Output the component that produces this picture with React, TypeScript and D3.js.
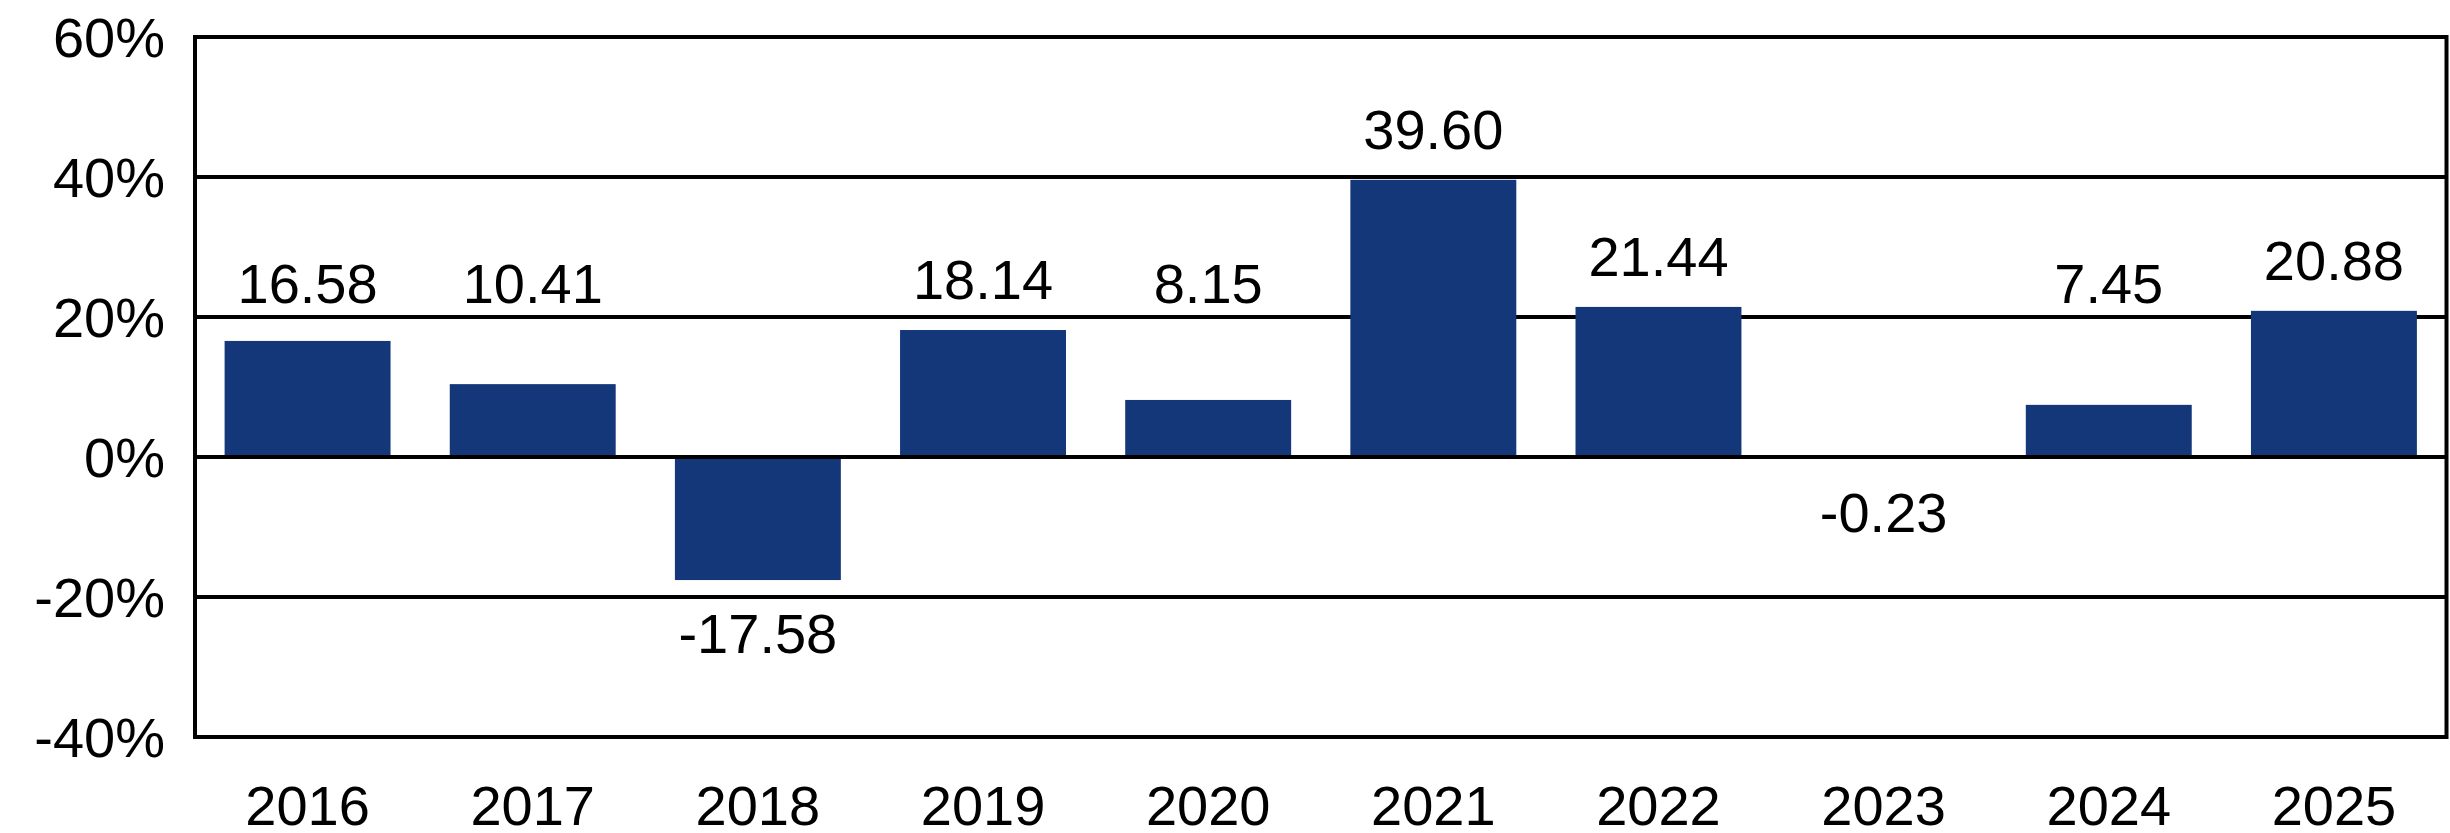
import React from "react";
import * as d3 from "d3";

const years = ["2016", "2017", "2018", "2019", "2020", "2021", "2022", "2023", "2024", "2025"];
const returns = [16.58, 10.41, -17.58, 18.14, 8.15, 39.6, 21.44, -0.23, 7.45, 20.88];
const yTicks = [60, 40, 20, 0, -20, -40];
const gridValues = [40, 20, -20];

const W = 2450;
const H = 833;
const left = 195;
const right = 2446.5;
const top = 37;
const bottom = 737;
const FONT = "'Liberation Sans', Arial, Helvetica, sans-serif";
const BAR = "#14377a";

export default function App() {
  const x = d3.scaleBand<string>().domain(years).range([left, right]).paddingInner(0.263).paddingOuter(0.1315);
  const y = d3.scaleLinear().domain([-40, 60]).range([bottom, top]);
  const bw = x.bandwidth();

  return (
    <svg width={W} height={H} style={{ position: "absolute", left: 0, top: 0, background: "#fff" }}>
      {gridValues.map((g) => (
        <line key={g} x1={left} x2={right} y1={y(g)} y2={y(g)} stroke="#000" strokeWidth={4} />
      ))}
      {years.map((yr, i) => {
        const v = returns[i];
        const y0 = y(0);
        const yv = y(v);
        return (
          <rect key={yr} x={x(yr)} y={Math.min(y0, yv)} width={bw} height={Math.abs(yv - y0)} fill={BAR} />
        );
      })}
      <line x1={left} x2={right} y1={y(0)} y2={y(0)} stroke="#000" strokeWidth={4} />
      <rect x={left} y={top} width={right - left} height={bottom - top} fill="none" stroke="#000" strokeWidth={4} />
      {yTicks.map((t) => (
        <text key={t} x={165} y={y(t)} dy="0.36em" textAnchor="end" fontFamily={FONT} fontSize={56} fill="#000">
          {`${t}%`}
        </text>
      ))}
      {years.map((yr) => (
        <text key={yr} x={(x(yr) as number) + bw / 2} y={825} textAnchor="middle" fontFamily={FONT} fontSize={56} fill="#000">
          {yr}
        </text>
      ))}
      {years.map((yr, i) => {
        const v = returns[i];
        const cx = (x(yr) as number) + bw / 2;
        const ly = v >= 0 ? Math.min(y(v) - 31, y(20) - 14) : y(v) + 73;
        return (
          <text key={yr} x={cx} y={ly} textAnchor="middle" fontFamily={FONT} fontSize={56} fill="#000">
            {v.toFixed(2)}
          </text>
        );
      })}
    </svg>
  );
}
